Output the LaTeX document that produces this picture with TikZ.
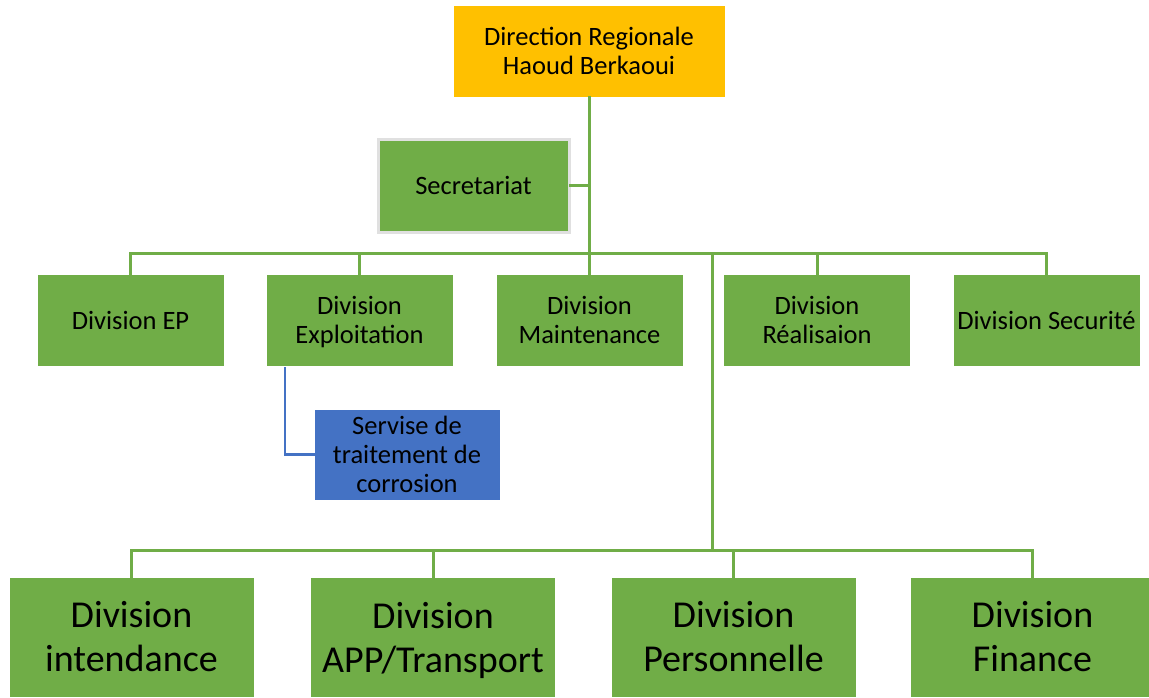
\documentclass[tikz,border=0pt]{standalone}
\usepackage{fontspec}
\setmainfont{Carlito}
\definecolor{ggreen}{HTML}{70AD47}
\definecolor{gold}{HTML}{FFC000}
\definecolor{bblue}{HTML}{4472C4}
\newcommand{\nodepth}[1]{\raisebox{0pt}[\height][0pt]{#1}}
\tikzset{
  box/.style={fill=ggreen, draw=white, line width=1pt, inner sep=0pt, align=center,
    font=\fontsize{26.5}{29}\selectfont, text=black},
  bigbox/.style={box, font=\fontsize{38}{44}\selectfont, minimum width=245pt, minimum height=120pt},
  rowbox/.style={box, minimum width=187pt, minimum height=92pt},
  conn/.style={draw=ggreen, line width=3pt, line cap=rect},
  bconn/.style={draw=bblue, line width=2.5pt, line cap=rect}
}
\begin{document}
\begin{tikzpicture}[x=1pt, y=-1pt]
\useasboundingbox (0,0) rectangle (1149,697);
% top
\node[box, fill=gold, minimum width=272pt, minimum height=92pt] (dir) at (589,51) {Direction Regionale\\Haoud Berkaoui};
\node[box, draw=black!12, line width=3pt, minimum width=191pt, minimum height=93pt] (sec) at (473.5,185.5) {Secretariat};
% row 1
\node[rowbox] (dEP)  at (130.5,320) {Division EP};
\node[rowbox] (dExp) at (359.5,320) {Division\\\nodepth{Exploitation}};
\node[rowbox] (dMai) at (589.5,320) {Division\\Maintenance};
\node[rowbox] (dRea) at (817,320)   {Division\\Réalisaion};
\node[rowbox] (dSec) at (1046.5,320){Division Securité};
% service
\node[box, fill=bblue, minimum width=186pt, minimum height=91pt] (serv) at (407,454.5) {Servise de\\traitement de\\corrosion};
% row 2
\node[bigbox] (dInt) at (131.5,637) {Division\\intendance};
\node[bigbox] (dApp) at (433,637)   {Division\\\nodepth{APP/Transport}};
\node[bigbox] (dPer) at (733.5,637) {Division\\Personnelle};
\node[bigbox] (dFin) at (1032.5,637){Division\\Finance};
% coordinates
\coordinate (bus1) at (589,253);
\coordinate (trunk) at (712,253);
\coordinate (bus2) at (712,550);
\coordinate (sj) at (589,185.5);
\coordinate (bstart) at (285,368);
% connectors
\draw[conn] (dir.south) -- (dir.south |- dMai.north);
\draw[conn] (sec.east) -- (sj);
\draw[conn] (dEP.north |- bus1) -- (dSec.north |- bus1);
\foreach \n in {dEP,dExp,dRea,dSec} {
  \draw[conn] (\n.north |- bus1) -- (\n.north);
}
\draw[conn] (trunk) -- (bus2);
\draw[conn] (dInt.north |- bus2) -- (dFin.north |- bus2);
\foreach \n in {dInt,dApp,dPer,dFin} {
  \draw[conn] (\n.north |- bus2) -- (\n.north);
}
\draw[bconn] (bstart) |- (serv.west);
\end{tikzpicture}
\end{document}
